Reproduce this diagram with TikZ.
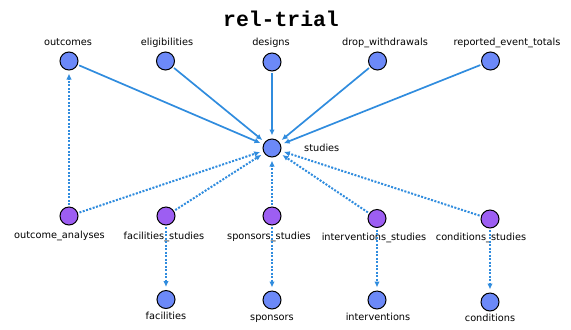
\documentclass[tikz,border=0pt]{standalone}
\usepackage{fontspec}
\setmainfont{DejaVu Sans}
\newfontfamily\titlefont{Liberation Mono}
\usetikzlibrary{arrows.meta}
\definecolor{nodeblue}{RGB}{108,137,248}
\definecolor{nodepurple}{RGB}{157,94,242}
\definecolor{edgeblue}{RGB}{48,140,222}
\begin{document}
\begin{tikzpicture}[x=1bp,y=-1bp,
  ent/.style={circle,draw=black,line width=1bp,fill=nodeblue,minimum size=18bp,inner sep=0pt},
  jt/.style={ent,fill=nodepurple},
  lbl/.style={anchor=base,font=\fontsize{9.8}{11}\selectfont,inner sep=0pt},
  rel/.style={draw=edgeblue,line width=1.7bp,-{Latex[length=6bp,width=5.5bp]},shorten >=3bp,shorten <=1.5bp},
  fk/.style={rel,line width=2bp,dash pattern=on 2bp off 1.5bp}]
\useasboundingbox (0,0) rectangle (571,329);
\node[anchor=base,inner sep=0pt,font=\titlefont\bfseries\fontsize{21.5}{24}\selectfont] (title) at (281,26) {rel-trial};
% top row
\node[ent] (outcomes) at (69,61) {};
\node[ent] (eligibilities) at (165.5,61) {};
\node[ent] (designs) at (272,62) {};
\node[ent] (drop) at (377.5,61) {};
\node[ent] (reported) at (490.5,61) {};
\node[lbl] (l-outcomes) at (68,45.5) {outcomes};
\node[lbl] (l-elig) at (167,45.5) {eligibilities};
\node[lbl] (l-designs) at (271,45.5) {designs};
\node[lbl] (l-drop) at (385,45.5) {drop\_withdrawals};
\node[lbl] (l-reported) at (507,45.5) {reported\_event\_totals};
% centre
\node[ent] (studies) at (272,148) {};
\node[lbl,anchor=base west] (l-studies) at (304,151.7) {studies};
% junction row
\node[jt] (oa) at (69,216) {};
\node[jt] (fs) at (166,216) {};
\node[jt] (ss) at (272,216) {};
\node[jt] (is) at (377,218.5) {};
\node[jt] (cs) at (490,219) {};
\node[lbl] (l-oa) at (59.5,238.7) {outcome\_analyses};
\node[lbl] (l-fs) at (164,239) {facilities\_studies};
\node[lbl] (l-ss) at (269,239.3) {sponsors\_studies};
\node[lbl] (l-is) at (374,240.3) {interventions\_studies};
\node[lbl] (l-cs) at (481,240.3) {conditions\_studies};
% bottom row
\node[ent] (facilities) at (166,299.5) {};
\node[ent] (sponsors) at (272,300) {};
\node[ent] (interventions) at (377,300) {};
\node[ent] (conditions) at (490,302) {};
\node[lbl] (l-fac) at (166,319.3) {facilities};
\node[lbl] (l-spo) at (272,320.7) {sponsors};
\node[lbl] (l-int) at (378,320) {interventions};
\node[lbl] (l-con) at (490,321) {conditions};
% solid relations
\draw[rel] (outcomes) -- (studies);
\draw[rel] (eligibilities) -- (studies);
\draw[rel] (designs) -- (studies);
\draw[rel] (drop) -- (studies);
\draw[rel] (reported) -- (studies);
% dotted relations
\draw[fk] (oa) -- (outcomes);
\draw[fk] (oa) -- (studies);
\draw[fk] (fs) -- (studies);
\draw[fk] (ss) -- (studies);
\draw[fk] (is) -- (studies);
\draw[fk] (cs) -- (studies);
\draw[fk] (fs) -- (facilities);
\draw[fk] (ss) -- (sponsors);
\draw[fk] (is) -- (interventions);
\draw[fk] (cs) -- (conditions);
\end{tikzpicture}
\end{document}
